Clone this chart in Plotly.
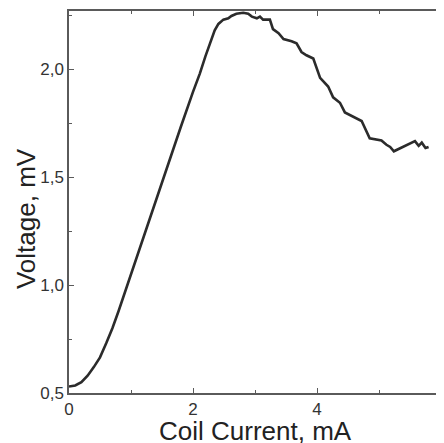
import plotly.graph_objects as go

current = [0.00, 0.10, 0.20, 0.30, 0.40, 0.50, 0.60, 0.70, 0.80, 0.90, 1.00,
           1.20, 1.40, 1.60, 1.80, 2.00, 2.11, 2.20, 2.27, 2.35, 2.41, 2.49,
           2.57, 2.62, 2.70, 2.81, 2.89, 2.95, 3.03, 3.08, 3.13, 3.24, 3.29,
           3.38, 3.46, 3.59, 3.67, 3.75, 3.83, 3.94, 4.05, 4.18, 4.26, 4.37,
           4.45, 4.59, 4.72, 4.85, 5.04, 5.12, 5.18, 5.24, 5.39, 5.58, 5.64,
           5.69, 5.75, 5.80]
voltage = [0.530, 0.535, 0.550, 0.580, 0.620, 0.665, 0.730, 0.800, 0.880, 0.965, 1.050,
           1.225, 1.400, 1.565, 1.730, 1.895, 1.980, 2.060, 2.120, 2.180, 2.210, 2.230,
           2.236, 2.247, 2.257, 2.262, 2.257, 2.244, 2.236, 2.244, 2.230, 2.230, 2.186,
           2.167, 2.140, 2.130, 2.120, 2.080, 2.065, 2.050, 1.960, 1.920, 1.870, 1.845,
           1.800, 1.780, 1.760, 1.680, 1.670, 1.650, 1.640, 1.620, 1.640, 1.667, 1.645,
           1.660, 1.635, 1.640]

x_ticks = [0, 2, 4, 6]
y_ticks = [0.5, 1.0, 1.5, 2.0]
x_title = "Coil Current, mA"
y_title = "Voltage, mV"

font_family = "Liberation Sans, Arial, sans-serif"
axis_col = "#5a5a5a"

fig = go.Figure()
fig.add_trace(go.Scatter(x=current, y=voltage, mode="lines",
                         line=dict(color="#2b2b2b", width=2.6),
                         showlegend=False, hoverinfo="skip"))

common = dict(showgrid=False, zeroline=False, showline=True, linecolor=axis_col,
              linewidth=1.5, mirror="ticks", ticks="inside", ticklen=5,
              tickwidth=1.2, tickcolor=axis_col, automargin=False,
              tickfont=dict(family=font_family, size=17, color="#333333"))

fig.update_xaxes(range=[0, 6], tickvals=x_ticks, ticktext=[str(v) for v in x_ticks],
                 minor=dict(ticks="inside", dtick=1, ticklen=3, tickcolor=axis_col, tickwidth=1.2),
                 **common)
fig.update_yaxes(range=[0.5, 2.27], tickvals=y_ticks,
                 ticktext=[f"{v:.1f}".replace(".", ",") for v in y_ticks],
                 minor=dict(ticks="inside", dtick=0.25, ticklen=3, tickcolor=axis_col, tickwidth=1.2),
                 **common)

fig.add_annotation(text=x_title, xref="paper", yref="paper", x=0.5, y=-0.0995,
                   xanchor="center", yanchor="middle", showarrow=False,
                   font=dict(family=font_family, size=26, color="#222222"))
fig.add_annotation(text=y_title, xref="paper", yref="paper", x=-0.1156, y=0.458,
                   xanchor="center", yanchor="middle", showarrow=False, textangle=-90,
                   font=dict(family=font_family, size=26, color="#222222"))

# the page body adds an 8px offset; margins compensate so the axes land where the reference has them
fig.update_layout(width=444, height=443, margin=dict(l=61, r=11, t=3, b=58),
                  paper_bgcolor="white", plot_bgcolor="white")

fig.write_html("out.html")
